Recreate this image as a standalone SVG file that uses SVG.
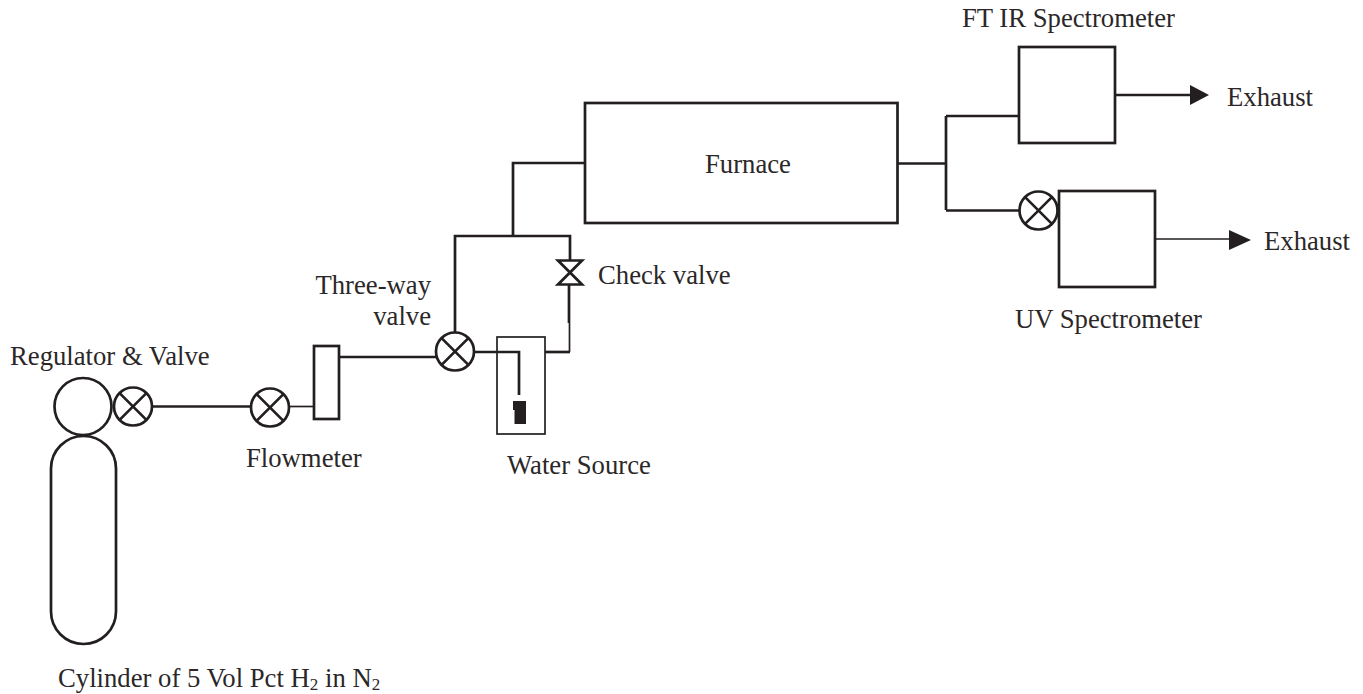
<svg xmlns="http://www.w3.org/2000/svg" width="1363" height="694" viewBox="0 0 1363 694">
<defs>
<style>
.s{fill:none;stroke:#231f20;stroke-width:2.700}
.t{fill:none;stroke:#231f20;stroke-width:1.700}
.f{fill:#231f20;stroke:none}
text{font-family:"Liberation Serif","Times New Roman",serif;font-size:26.700px;fill:#2b2728}
.sub{font-size:17px}
</style>
<g id="vx"><circle class="s" r="19"/><path class="s" d="M-13.400-13.400L13.400 13.400M-13.400 13.400L13.400-13.400"/></g>
</defs>
<rect width="1363" height="694" fill="#fff"/>
<g id="connectors">
<path class="s" d="M152 406.500H250"/>
<path class="t" d="M289 406.500H314"/>
<path class="s" d="M339 357H436"/>
<path class="s" d="M455 333V236H570V260"/>
<path class="s" d="M513 236V163H585"/>
<path class="s" d="M569 285V323"/>
<path class="t" d="M569.500 323V352"/>
<path class="s" d="M545 352H570"/>
<path class="s" d="M474 352H519V395"/>
<path class="s" d="M898 163.500H946M946 116V210M946 116H1019M946 210.500H1020"/>
<path class="s" d="M1115 95H1191"/>
<path class="t" d="M1155 239H1230"/>
<path class="f" d="M1190 85L1209 95L1190 105Z"/>
<path class="f" d="M1229 230L1251 240L1229 250Z"/>
</g>
<g id="cylinder"><rect class="s" x="51" y="436" width="65" height="208" rx="32.500" ry="32.500"/></g>
<g id="regulator"><circle class="s" cx="83" cy="406.500" r="28.500"/></g>
<g id="valve-regulator"><use href="#vx" x="133" y="406.500"/></g>
<g id="valve-flow"><use href="#vx" x="270" y="407.500"/></g>
<g id="flowmeter"><rect class="s" x="314" y="346" width="25" height="73"/></g>
<g id="three-way-valve"><use href="#vx" x="455" y="351.500"/></g>
<g id="check-valve"><path class="s" d="M558 260.500H582L558 284.500H582Z"/></g>
<g id="water-source"><rect class="t" x="497" y="337" width="48" height="97"/><path class="f" d="M513 401H526V424H514.500V410H513Z"/></g>
<g id="furnace"><rect class="s" x="585" y="103" width="312.500" height="120"/></g>
<g id="ftir"><rect class="s" x="1019" y="47" width="96" height="96"/></g>
<g id="valve-uv"><use href="#vx" x="1038.500" y="210.500"/></g>
<g id="uv"><rect class="s" x="1059" y="191" width="96" height="96"/></g>
<g id="labels">
<text x="10" y="365">Regulator &amp; Valve</text>
<text x="246" y="467">Flowmeter</text>
<text x="431" y="294" text-anchor="end">Three-way</text>
<text x="431" y="325" text-anchor="end">valve</text>
<text x="598" y="284">Check valve</text>
<text x="507" y="474">Water Source</text>
<text x="705" y="173">Furnace</text>
<text x="962" y="27">FT IR Spectrometer</text>
<text x="1015" y="328">UV Spectrometer</text>
<text x="1227" y="106">Exhaust</text>
<text x="1264" y="250">Exhaust</text>
<text x="58" y="686.500" font-size="26.700">Cylinder of 5 Vol Pct H<tspan class="sub" dy="3">2</tspan><tspan dy="-3"> in N</tspan><tspan class="sub" dy="3">2</tspan></text>
</g>
</svg>
